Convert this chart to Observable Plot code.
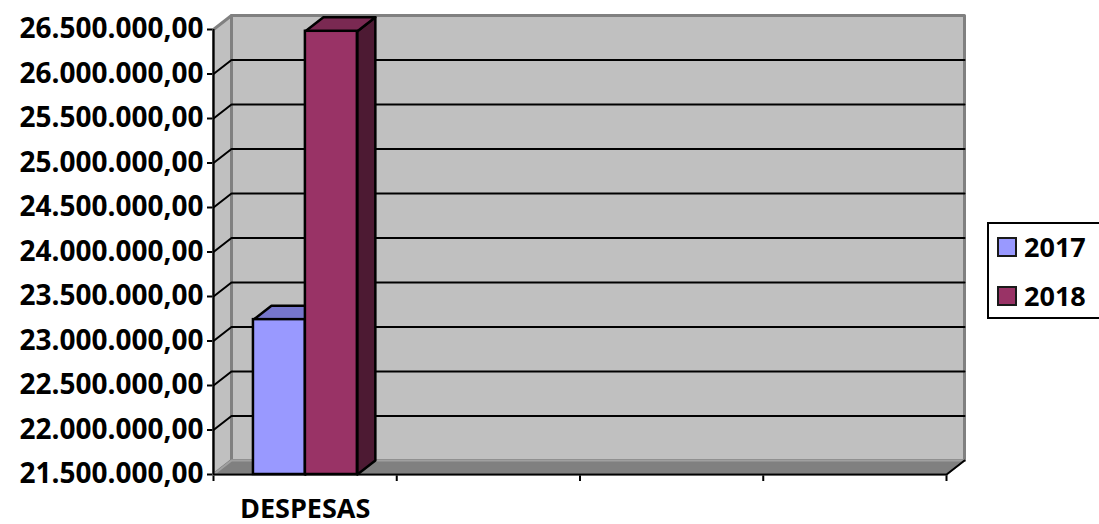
<!DOCTYPE html>
<html><head><meta charset="utf-8">
<script src="https://cdn.jsdelivr.net/npm/d3@7"></script>
<script src="https://cdn.jsdelivr.net/npm/@observablehq/plot@0.6"></script>
<style>
html,body{margin:0;padding:0;background:#fff;overflow:hidden;}
#wrap{position:relative;width:1099px;height:524px;}
#legend{position:absolute;left:987px;top:222px;width:140px;height:97px;border:2px solid #000;box-sizing:border-box;background:#fff;font-family:"Open Sans";font-weight:bold;font-size:27px;color:#000;}
.item{position:absolute;left:8px;display:flex;align-items:center;height:30px;line-height:30px;}
.sw{width:16px;height:16px;border:2px solid #1a1a1a;margin-right:7px;}
g[aria-label="y-axis tick"], g[aria-label="x-axis tick"]{stroke-width:2px;}
</style></head><body><div id="wrap"></div>
<script>
// ---- data ----
const categories = ["DESPESAS", "", "", ""];
const series = ["2017", "2018"];
const values2017 = [23240000, null, null, null];
const values2018 = [26480000, null, null, null];
const yTicks = [21500000, 22000000, 22500000, 23000000, 23500000, 24000000, 24500000, 25000000, 25500000, 26000000, 26500000];
const frontColors = {"2017": "#9999ff", "2018": "#993366"};
const topColors = {"2017": "#7676cc", "2018": "#7a2952"};
const sideColors = {"2017": "#4d4d80", "2018": "#4d1a33"};

// ---- layout ----
const W = 1099, H = 524;
const mL = 213, mR = 153, mT = 29, mB = 50;
const yMin = yTicks[0], yMax = yTicks[yTicks.length - 1];
const nCat = categories.length;
const depthPx = [18, 14];
const kx = nCat / (W - mL - mR);
const ky = (yMax - yMin) / (H - mT - mB);
const DX = depthPx[0] * kx, DY = depthPx[1] * ky;

const fmt = d3.formatLocale({decimal: ",", thousands: ".", grouping: [3], currency: ["", ""]}).format(",.2f");
const inner = d3.scaleBand().domain(series).range([0.218, 0.785]);

// walls
const sideWall = [
  {x: 0, y: yMin, id: "s"}, {x: DX, y: yMin + DY, id: "s"},
  {x: DX, y: yMax + DY, id: "s"}, {x: 0, y: yMax, id: "s"}
];
const backWall = [
  {x: DX, y: yMin + DY, id: "b"}, {x: nCat + DX, y: yMin + DY, id: "b"},
  {x: nCat + DX, y: yMax + DY, id: "b"}, {x: DX, y: yMax + DY, id: "b"}
];
const floor = [
  {x: 0, y: yMin, id: "f"}, {x: DX, y: yMin + DY, id: "f"},
  {x: nCat + DX, y: yMin + DY, id: "f"}, {x: nCat, y: yMin, id: "f"}
];
const grid = yTicks.slice(1, -1).flatMap(t => [
  {x: 0, y: t, id: t}, {x: DX, y: t + DY, id: t}, {x: nCat + DX, y: t + DY, id: t}
]);
const floorEdge = [{x: 0, y: yMin}, {x: nCat, y: yMin}, {x: nCat + DX, y: yMin + DY}];

// bars
const valuesBySeries = {"2017": values2017, "2018": values2018};
const bars = [];
series.forEach(s => {
  valuesBySeries[s].forEach((v, i) => {
    if (v == null) return;
    const x1 = i + inner(s), x2 = x1 + inner.bandwidth();
    bars.push({s, v, x1, x2});
  });
});

const barMarks = bars.flatMap(b => {
  const id = b.s;
  const side = [
    {x: b.x2, y: yMin}, {x: b.x2 + DX, y: yMin + DY}, {x: b.x2 + DX, y: b.v + DY}, {x: b.x2, y: b.v}
  ];
  const top = [
    {x: b.x1, y: b.v}, {x: b.x1 + DX, y: b.v + DY}, {x: b.x2 + DX, y: b.v + DY}, {x: b.x2, y: b.v}
  ];
  return [
    Plot.line(side, {x: "x", y: "y", curve: "linear-closed", fill: sideColors[id], stroke: "#000", strokeWidth: 2.5}),
    Plot.line(top, {x: "x", y: "y", curve: "linear-closed", fill: topColors[id], stroke: "#000", strokeWidth: 2.5}),
    Plot.rect([b], {x1: "x1", x2: "x2", y1: () => yMin, y2: "v", fill: frontColors[id], stroke: "#000", strokeWidth: 2.5})
  ];
});

const chart = Plot.plot({
  width: W, height: H,
  marginLeft: mL, marginRight: mR, marginTop: mT, marginBottom: mB,
  style: {fontFamily: "Open Sans", fontWeight: "bold", fontSize: "28px", color: "#000", background: "transparent", overflow: "visible"},
  x: {type: "linear", domain: [0, nCat], ticks: d3.range(nCat + 1), tickFormat: () => "", tickSize: 7, label: null},
  y: {domain: [yMin, yMax], ticks: yTicks, tickFormat: fmt, tickSize: 6, tickPadding: 4, label: null},
  marks: [
    Plot.line(sideWall, {x: "x", y: "y", z: "id", curve: "linear-closed", fill: "#c0c0c0", stroke: "#808080", strokeWidth: 3}),
    Plot.line(backWall, {x: "x", y: "y", z: "id", curve: "linear-closed", fill: "#c0c0c0", stroke: "#808080", strokeWidth: 3}),
    Plot.line(grid, {x: "x", y: "y", z: "id", stroke: "#000", strokeWidth: 2}),
    Plot.line(floor, {x: "x", y: "y", z: "id", curve: "linear-closed", fill: "#808080", stroke: "#a0a0a0", strokeWidth: 2}),
    Plot.line(floorEdge, {x: "x", y: "y", stroke: "#000", strokeWidth: 2}),
    Plot.ruleX([0], {y1: yMin, y2: yMax, stroke: "#000", strokeWidth: 2}),
    ...barMarks,
    Plot.text(categories.map((c, i) => ({c, i})), {x: d => d.i + 0.5, y: () => yMin, text: "c", dy: 35, fontSize: 27, fontWeight: "bold", fill: "#000"})
  ]
});

const wrap = document.getElementById("wrap");
wrap.appendChild(chart);

// legend
const legend = document.createElement("div");
legend.id = "legend";
series.forEach((s, j) => {
  const it = document.createElement("div");
  it.className = "item";
  it.style.top = (8 + j * 49) + "px";
  const sw = document.createElement("div");
  sw.className = "sw";
  sw.style.background = frontColors[s];
  const tx = document.createElement("span");
  tx.textContent = s;
  it.appendChild(sw); it.appendChild(tx);
  legend.appendChild(it);
});
wrap.appendChild(legend);
</script></body></html>
